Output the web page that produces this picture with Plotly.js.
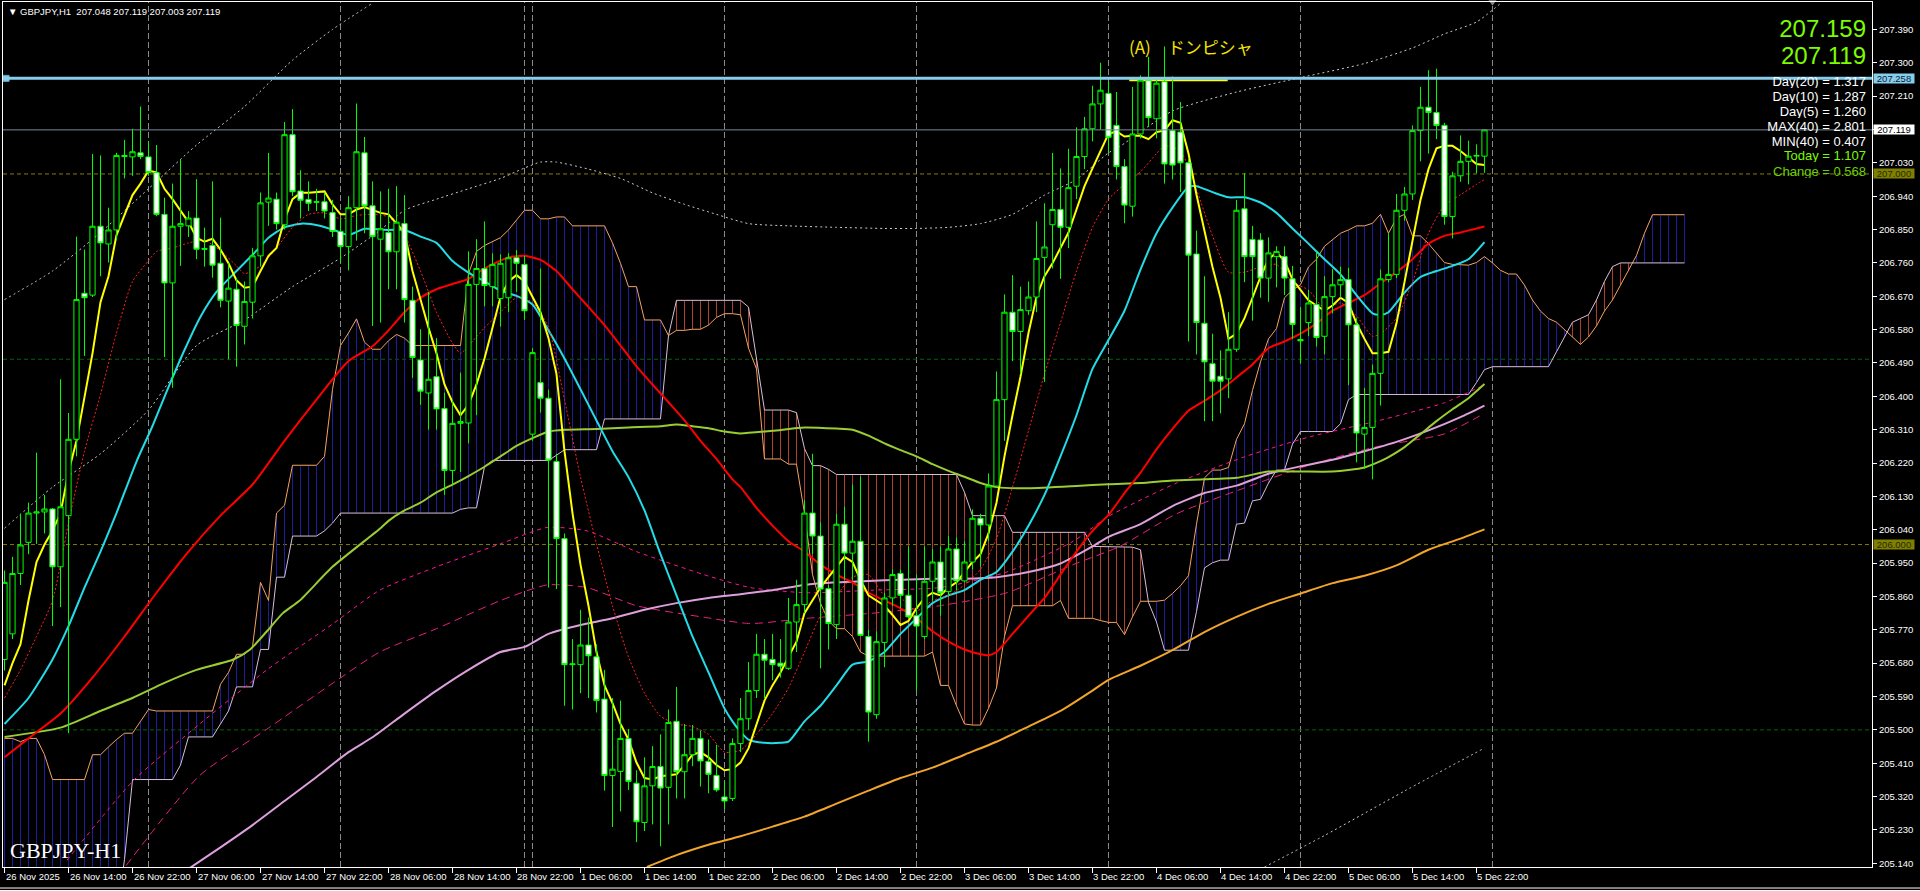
<!DOCTYPE html>
<html><head><meta charset="utf-8">
<script src="https://cdn.plot.ly/plotly-3.0.1.min.js"></script>
<style>html,body{margin:0;padding:0;background:#000;overflow:hidden}#chart{width:1920px;height:891px}</style>
</head><body><div id="chart"></div>
<script>
// ---------- candles (GBPJPY H1, bar 0 = 26 Nov 06:00) ----------
const openP = [205.690,205.759,205.922,206.006,206.085,206.088,206.096,205.940,206.078,206.284,
206.678,206.673,206.859,206.811,206.849,207.050,207.046,207.057,207.046,207.004,
206.891,206.706,206.859,206.860,206.881,206.799,206.807,206.759,206.657,206.689,
206.589,206.654,206.779,206.924,206.932,206.863,207.106,206.954,206.931,206.925,
206.925,206.896,206.845,206.804,206.909,207.057,206.914,206.824,206.842,206.790,
206.866,206.659,206.498,206.409,206.453,206.367,206.200,206.327,206.328,206.702,
206.745,206.696,206.664,206.666,206.774,206.756,206.298,206.437,206.395,206.224,
206.016,205.676,205.676,205.729,205.697,205.583,205.377,205.388,205.477,205.356,
205.250,205.349,205.401,205.345,205.523,205.387,205.433,205.477,205.415,205.377,
205.319,205.315,205.463,205.530,205.606,205.704,205.690,205.680,205.666,205.791,
205.838,206.085,206.023,205.881,205.784,206.055,205.977,206.009,205.752,205.541,
205.736,205.856,205.922,205.863,205.808,205.752,205.901,205.953,205.873,205.988,
205.902,205.953,206.071,206.053,206.158,206.391,206.627,206.575,206.631,206.668,
206.775,206.863,206.904,206.856,206.967,207.047,207.122,207.189,207.217,207.131,
207.020,206.913,207.108,207.253,207.149,207.249,207.117,207.113,207.030,206.784,
206.597,206.488,206.454,206.447,206.527,206.906,206.823,206.822,206.719,206.777,
206.777,206.717,206.553,206.599,206.648,206.562,206.669,206.701,206.715,206.593,
206.298,206.316,206.462,206.715,206.729,206.902,206.946,207.117,207.180,207.166,
207.131,206.885,206.995,207.034,207.048,207.048];
const highP = [205.930,205.967,206.083,206.113,206.248,206.134,206.099,206.446,206.355,206.831,
206.796,207.054,207.050,206.909,207.057,207.092,207.122,207.182,207.088,207.078,
206.936,206.974,207.040,206.900,206.986,206.855,206.980,206.882,206.760,206.720,
206.710,206.800,206.950,207.057,206.950,207.140,207.175,207.010,206.980,206.960,
206.950,206.930,206.880,206.940,207.190,207.100,206.980,206.953,206.960,206.967,
206.943,206.696,206.581,206.682,206.557,206.410,206.390,206.464,206.791,206.824,
206.872,206.786,206.783,206.786,206.795,206.779,206.530,206.745,206.418,206.245,
206.030,205.745,205.824,205.803,205.731,205.662,205.586,205.579,205.502,205.391,
205.426,205.456,205.488,205.555,205.616,205.516,205.513,205.498,205.474,205.460,
205.363,205.477,205.586,205.683,205.759,205.745,205.759,205.745,205.856,205.905,
206.120,206.245,206.060,205.891,206.083,206.102,206.162,206.183,205.770,205.766,
205.870,205.933,205.933,205.995,205.919,205.995,205.988,205.995,206.023,206.019,
206.009,206.095,206.083,206.192,206.467,206.675,206.727,206.696,206.710,206.872,
206.921,207.057,207.015,207.068,207.126,207.154,207.238,207.300,207.250,207.221,
207.040,207.235,207.266,207.316,207.256,207.344,207.263,207.194,207.041,206.847,
206.724,206.569,206.524,206.627,206.930,207.002,206.860,206.840,206.829,206.805,
206.805,206.752,206.641,206.687,206.791,206.724,206.743,206.750,206.747,206.611,
206.423,206.486,206.742,206.840,206.946,206.965,207.131,207.235,207.280,207.284,
207.138,207.006,207.104,207.090,207.080,207.119];
const lowP = [205.660,205.745,205.891,205.974,206.002,206.030,205.780,205.831,205.491,206.238,
206.509,206.668,206.724,206.761,206.821,206.988,206.995,207.040,206.995,206.886,
206.506,206.423,206.752,206.830,206.770,206.750,206.720,206.640,206.500,206.480,
206.540,206.610,206.750,206.860,206.850,206.850,206.940,206.880,206.900,206.900,
206.880,206.830,206.760,206.740,206.820,206.840,206.590,206.599,206.689,206.689,
206.599,206.450,206.377,206.310,206.310,206.134,206.162,206.196,206.273,206.349,
206.643,206.643,206.588,206.627,206.682,206.606,206.280,206.356,205.884,205.880,
205.565,205.555,205.599,205.586,205.547,205.336,205.238,205.280,205.338,205.197,
205.227,205.245,205.186,205.245,205.315,205.315,205.402,205.347,205.329,205.333,
205.287,205.308,205.440,205.500,205.586,205.586,205.634,205.641,205.662,205.710,
205.815,205.974,205.666,205.717,205.745,205.905,205.905,205.755,205.468,205.530,
205.669,205.835,205.828,205.801,205.606,205.745,205.849,205.808,205.863,205.877,
205.898,205.933,205.940,206.009,206.155,206.280,206.495,206.460,206.620,206.627,
206.439,206.745,206.717,206.800,206.932,207.013,207.088,207.120,207.057,206.985,
206.867,206.885,207.096,207.127,207.096,206.974,206.985,206.951,206.548,206.513,
206.333,206.333,206.354,206.395,206.520,206.708,206.604,206.666,206.655,206.694,
206.673,206.555,206.488,206.562,206.534,206.513,206.624,206.666,206.430,206.222,
206.204,206.176,206.375,206.708,206.719,206.874,206.930,207.034,207.055,207.094,
206.863,206.826,206.979,206.972,207.002,207.003];
const closeP = [205.898,205.922,205.999,206.085,206.088,206.096,205.940,206.102,206.284,206.661,
206.666,206.859,206.814,206.849,207.050,207.047,207.060,207.047,207.004,206.891,
206.706,206.859,206.866,206.881,206.797,206.797,206.754,206.659,206.692,206.591,
206.656,206.779,206.922,206.935,206.866,207.106,206.952,206.929,206.921,206.924,
206.900,206.845,206.804,206.909,207.060,206.914,206.831,206.852,206.790,206.870,
206.661,206.505,206.414,206.446,206.366,206.200,206.327,206.332,206.702,206.745,
206.699,206.756,206.759,206.774,206.759,206.631,206.518,206.395,206.228,206.016,
205.676,205.678,205.729,205.700,205.579,205.377,205.394,205.477,205.361,205.252,
205.349,205.401,205.343,205.520,205.387,205.433,205.477,205.416,205.380,205.338,
205.308,205.463,205.530,205.606,205.704,205.688,205.676,205.672,205.791,205.838,
206.085,206.023,205.880,205.787,206.055,205.977,206.009,205.755,205.548,205.738,
205.856,205.919,205.863,205.805,205.780,205.901,205.953,205.870,205.988,205.902,
205.953,206.071,206.053,206.158,206.391,206.627,206.575,206.634,206.668,206.772,
206.803,206.904,206.856,206.963,207.047,207.122,207.189,207.226,207.099,207.020,
206.916,207.108,207.253,207.152,207.245,207.027,207.024,207.030,206.781,206.599,
206.493,206.441,206.441,206.527,206.902,206.777,206.777,206.719,206.787,206.791,
206.719,206.594,206.550,206.652,206.559,206.669,206.701,206.715,206.593,206.301,
206.316,206.462,206.717,206.729,206.902,206.946,207.117,207.180,207.166,207.131,
206.885,206.995,207.034,207.048,207.050,207.119];

// ---------- indicators ----------
const yellowMA = [205.620,205.680,205.731,205.849,205.953,206.000,206.037,206.085,206.196,206.280,
206.398,206.516,206.654,206.724,206.835,206.891,206.943,206.974,207.009,207.004,
206.960,206.932,206.902,206.870,206.828,206.817,206.825,206.796,206.759,206.713,
206.693,206.696,206.738,206.779,206.800,206.877,206.932,206.949,206.949,206.950,
206.953,206.918,206.891,206.891,206.904,206.911,206.902,206.895,206.891,206.866,
206.842,206.738,206.661,206.585,206.516,206.432,206.384,206.349,206.377,206.432,
206.502,206.585,206.668,206.710,206.727,206.710,206.668,206.627,206.557,206.460,
206.252,206.085,205.946,205.835,205.710,205.620,205.572,205.516,205.474,205.412,
205.370,205.366,205.375,205.377,205.380,205.405,205.433,205.440,205.426,205.405,
205.391,205.394,205.412,205.450,205.516,205.579,205.620,205.655,205.697,205.738,
205.815,205.849,205.884,205.912,205.940,205.967,205.953,205.905,205.863,205.849,
205.835,205.810,205.783,205.794,205.828,205.856,205.870,205.863,205.884,205.898,
205.926,205.953,205.974,206.030,206.113,206.238,206.349,206.453,206.571,206.668,
206.724,206.759,206.800,206.842,206.904,206.967,207.015,207.064,207.108,207.115,
207.101,207.103,207.103,207.094,207.113,207.117,207.145,207.138,207.055,206.944,
206.847,206.749,206.666,206.555,206.569,206.611,206.666,206.722,206.770,206.788,
206.766,206.715,206.687,206.659,206.645,206.631,206.645,206.666,206.652,206.597,
206.555,206.516,206.516,206.520,206.597,206.708,206.819,206.930,207.013,207.069,
207.076,207.076,207.062,207.044,207.027,207.024];

const redDotBars = [0,2,4,6,8,10,12,14,16,18,19,21,23,25,27,29,30,32,34,36,38,40,42,44,46,48,50,52,54,56,57,58,60,62,64,66,68,70,72,74,76,78,80,82,84,86,88,90,92,94,96,98,100,102,104,106,108,110,112,114,116,118,120,122,124,126,128,130,132,134,136,138,140,142,144,145,147,149,151,153,155,157,159,161,163,165,167,169,171,172,174,176,178,180,182,184,185];
const redDotVals = [205.586,205.662,205.752,205.849,206.058,206.252,206.405,206.571,206.710,206.766,206.791,206.800,206.814,206.821,206.793,206.752,206.731,206.752,206.800,206.856,206.891,206.895,206.879,206.888,206.891,206.884,206.835,206.738,206.627,206.543,206.516,206.536,206.585,206.627,206.666,206.654,206.585,206.391,206.182,206.002,205.835,205.697,205.599,205.537,205.516,205.509,205.488,205.440,205.445,205.488,205.544,205.613,205.710,205.808,205.863,205.912,205.919,205.863,205.856,205.821,205.849,205.863,205.891,205.933,206.016,206.155,206.307,206.460,206.599,206.738,206.856,206.932,206.972,207.006,207.055,207.076,207.062,206.958,206.833,206.735,206.735,206.749,206.756,206.708,206.687,206.638,206.652,206.617,206.562,206.569,206.611,206.708,206.840,206.916,206.944,206.972,206.985];

const cyanBars = [0,3,6,8,10,12,14,16.5,18.5,20.5,22.5,24.5,26.5,29,31.5,33,35,37.3,39.4,41.5,43,45,48,50,52,54,56,58,60,62,64,66,68,70,72,74,76,78,80,82,84,86,88,90,91,92,93,95,97,98,100,102,104,106,108,110,112,114,116,118,120,122,124,126,128,130,132,134,136,138,140,142,144,146,148,149,151,153,155,157,159,161,163,165,167,169,171,172,173,175,177,179,181,183,185];
const cyanVals = [205.516,205.586,205.690,205.780,205.884,205.981,206.085,206.224,206.320,206.425,206.525,206.615,206.682,206.738,206.793,206.828,206.856,206.866,206.860,206.846,206.835,206.852,206.849,206.849,206.831,206.814,206.765,206.734,206.710,206.685,206.671,206.648,206.578,206.502,206.419,206.335,206.252,206.182,206.092,205.974,205.863,205.752,205.655,205.558,205.523,205.495,205.474,205.465,205.465,205.468,205.523,205.565,205.620,205.676,205.685,205.710,205.759,205.801,205.842,205.863,205.877,205.905,205.926,205.981,206.051,206.134,206.238,206.349,206.474,206.552,206.631,206.742,206.840,206.909,206.965,206.967,206.951,206.937,206.937,206.923,206.895,206.853,206.812,206.770,206.729,206.673,206.624,206.620,206.627,206.680,206.722,206.738,206.752,206.770,206.816];

const redBars = [0,3,7,11,15,19,23,27,31,35,39,43,46,48,50,52,54,56,58,60,62,63,65,67,69,71,73,75,77,79,81,83,85,87,89,91,92,94,96,98,100,102,104,106,108,110,112,114,116,118,120,122,123,124,126,128,130,132,134,136,138,140,142,144,146,148,150,152,154,156,158,160,162,164,166,168,170,172,174,176,178,180,182,184,185];
const redVals = [205.426,205.477,205.544,205.641,205.752,205.870,205.981,206.078,206.162,206.280,206.391,206.495,206.535,206.578,206.627,206.666,206.689,206.703,206.717,206.745,206.766,206.775,206.779,206.768,206.738,206.689,206.641,206.592,206.537,206.481,206.432,206.384,206.335,206.280,206.231,206.176,206.155,206.099,206.051,206.009,205.981,205.946,205.919,205.898,205.870,205.849,205.828,205.801,205.766,205.738,205.717,205.704,205.701,205.710,205.759,205.808,205.856,205.919,205.981,206.037,206.080,206.139,206.194,206.257,206.312,206.361,206.388,206.416,206.451,206.486,206.530,206.548,206.569,206.597,206.631,206.652,206.673,206.705,206.735,206.770,206.812,206.833,206.842,206.853,206.858];

const greenBars = [0,7,12,16,20,24,28.6,30.7,32.8,34.8,36.9,41,47,48,50,52,54,56,58,60,62,64,66,68,70,74,78,82,84,86,88,90,92,96,100,104,106,108,110,112,114,116,118,120,122,124,128,134,138,142,146,150,154,158,162,166,168,170,172,173,175,177,179,181,183,185];
const greenVals = [205.481,205.506,205.551,205.586,205.627,205.662,205.690,205.717,205.766,205.815,205.849,205.940,206.044,206.064,206.092,206.113,206.141,206.162,206.185,206.210,206.238,206.266,206.287,206.305,206.310,206.312,206.316,206.319,206.324,206.319,206.314,206.305,206.300,206.307,206.316,206.313,206.310,206.294,206.273,206.255,206.238,206.217,206.199,206.183,206.166,206.155,206.152,206.158,206.163,206.166,206.173,206.176,206.180,206.197,206.197,206.197,206.201,206.208,206.225,206.236,206.263,206.298,206.333,206.365,206.395,206.433];

const plumBars = [23,27,31,35,39,43,46,50,54,58,62,65,68,72,76,80,84,88,92,96,100,104,108,112,116,120,124,128,132,136,138,142,146,150,154,158,162,166,170,174,178,182,185];
const plumVals = [205.125,205.183,205.243,205.308,205.373,205.440,205.480,205.544,205.606,205.662,205.710,205.724,205.759,205.783,205.801,205.824,205.842,205.856,205.866,205.877,205.891,205.898,205.902,205.905,205.908,205.908,205.912,205.926,205.949,205.995,206.021,206.055,206.104,206.139,206.159,206.191,206.211,206.229,206.252,206.277,206.308,206.344,206.375];

const orangeBars = [80.3,84,88,92,96,100,104,108,112,116,120,124,128,132,136,138,142,146,150,154,158,162,166,170,174,178,182,185];
const orangeVals = [205.130,205.162,205.190,205.213,205.239,205.266,205.301,205.336,205.370,205.398,205.433,205.468,205.509,205.551,205.606,205.635,205.673,205.715,205.764,205.805,205.840,205.868,205.896,205.916,205.944,205.986,206.016,206.041];

const pinkUpBars = [7.8,16.1,24.4,32.8,41.1,46.9,54,62,67.8,72.8,79,87.4,93.2,100.3,108.6,116.9,125.3,133.6,138,146.5,154.9,163.2,171.5,179.9,184.9];
const pinkUpVals = [205.148,205.363,205.516,205.662,205.787,205.877,205.940,206.002,206.046,206.037,205.981,205.919,205.884,205.870,205.877,205.884,205.926,206.009,206.076,206.166,206.236,206.291,206.333,206.382,206.430];
const pinkLoBars = [15.2,24.4,32.8,41.1,46.9,54,62,67.8,72.8,79,87.4,93.2,100.3,108.6,116.9,125.3,133.6,139.4,146.5,154.9,163.2,171.5,179.9,184.4];
const pinkLoVals = [205.134,205.377,205.502,205.627,205.710,205.773,205.849,205.891,205.884,205.835,205.804,205.787,205.801,205.815,205.835,205.870,205.946,205.995,206.083,206.152,206.215,206.264,206.298,206.347];

const bandABars = [0,6,12,18,24,30,36,41,46];
const bandAVals = [206.661,206.738,206.842,206.960,207.078,207.182,207.307,207.390,207.461];
const bandBBars = [0,6,12,18,24,30,36,42,47,50,54,58,62,65,67,69,73,77,81,85,89,93,98,104,110,114,118,122,126,130,134,138,139.4,146,154,162,170,176,180,184,187];
const bandBVals = [206.044,206.155,206.245,206.363,206.537,206.606,206.696,206.773,206.849,206.902,206.932,206.960,206.988,207.016,207.032,207.032,207.013,206.988,206.949,206.918,206.891,206.866,206.860,206.856,206.853,206.853,206.856,206.866,206.891,206.943,206.985,207.057,207.074,207.170,207.221,207.260,207.298,207.340,207.378,207.410,207.460];
const bandCBars = [157.5,165,175,185];
const bandCVals = [205.130,205.215,205.335,205.451];

// Ichimoku Senkou spans, bars 0..210
const spanA = [205.477,205.477,205.468,205.477,205.477,205.433,205.366,205.366,205.366,205.366,
205.366,205.433,205.433,205.454,205.474,205.491,205.491,205.523,205.555,205.551,
205.551,205.551,205.551,205.551,205.551,205.551,205.551,205.623,205.655,205.704,
205.704,205.724,205.898,205.849,206.085,206.106,206.214,206.214,206.214,206.214,
206.238,206.419,206.537,206.571,206.609,206.546,206.527,206.527,206.550,206.567,
206.557,206.537,206.537,206.537,206.537,206.537,206.537,206.537,206.731,206.791,
206.807,206.818,206.828,206.849,206.874,206.902,206.902,206.879,206.879,206.884,
206.884,206.860,206.860,206.860,206.860,206.860,206.814,206.759,206.696,206.696,
206.606,206.606,206.606,206.564,206.578,206.578,206.581,206.581,206.592,206.613,
206.623,206.623,206.620,206.530,206.474,206.231,206.231,206.231,206.217,206.217,
206.085,205.919,205.842,205.794,205.773,205.773,205.752,205.710,205.699,205.699,
205.699,205.699,205.699,205.699,205.699,205.699,205.710,205.620,205.620,205.565,
205.516,205.513,205.513,205.558,205.613,205.752,205.835,205.835,205.835,205.835,
205.835,205.835,205.849,205.801,205.801,205.801,205.801,205.795,205.790,205.790,
205.757,205.805,205.847,205.847,205.847,205.850,205.868,205.889,205.916,206.055,
206.180,206.201,206.201,206.208,206.284,206.326,206.416,206.493,206.555,206.583,
206.666,206.687,206.701,206.749,206.770,206.805,206.822,206.840,206.849,206.860,
206.860,206.867,206.891,206.840,206.881,206.891,206.833,206.833,206.812,206.788,
206.761,206.756,206.756,206.754,206.761,206.777,206.760,206.740,206.730,206.730,
206.700,206.660,206.630,206.610,206.600,206.580,206.560,206.540,206.560,206.590,
206.630,206.660,206.700,206.740,206.780,206.840,206.890,206.890,206.890,206.890,
206.890];
const spanB = [205.000,205.000,205.000,205.000,205.000,205.000,205.000,205.000,205.000,205.000,
205.000,205.000,205.000,205.000,205.000,205.150,205.366,205.366,205.366,205.366,
205.366,205.366,205.405,205.481,205.481,205.481,205.481,205.516,205.551,205.616,
205.616,205.616,205.717,205.717,205.912,205.912,206.023,206.023,206.023,206.023,
206.037,206.058,206.085,206.085,206.085,206.085,206.085,206.085,206.085,206.085,
206.085,206.085,206.085,206.085,206.085,206.085,206.085,206.095,206.099,206.099,
206.210,206.227,206.227,206.227,206.227,206.227,206.227,206.227,206.227,206.241,
206.256,206.256,206.256,206.256,206.256,206.339,206.339,206.339,206.339,206.339,
206.339,206.339,206.339,206.564,206.659,206.659,206.659,206.659,206.659,206.659,
206.659,206.659,206.659,206.641,206.502,206.363,206.363,206.363,206.363,206.356,
206.259,206.213,206.213,206.203,206.189,206.189,206.189,206.189,206.189,206.189,
206.189,206.189,206.189,206.189,206.189,206.189,206.189,206.189,206.189,206.189,
206.141,206.078,206.078,206.078,206.078,206.078,206.033,206.033,206.033,206.033,
206.033,206.033,206.033,206.033,206.033,206.033,205.995,205.995,205.993,205.993,
205.993,205.993,205.986,205.844,205.791,205.715,205.715,205.715,205.715,205.819,
205.937,205.951,205.958,205.958,206.055,206.058,206.118,206.122,206.166,206.201,
206.201,206.271,206.305,206.305,206.305,206.305,206.305,206.326,206.391,206.405,
206.405,206.405,206.405,206.405,206.405,206.405,206.405,206.405,206.405,206.405,
206.405,206.405,206.405,206.405,206.437,206.472,206.480,206.480,206.480,206.480,
206.480,206.480,206.480,206.480,206.520,206.560,206.600,206.610,206.620,206.660,
206.710,206.750,206.760,206.760,206.760,206.760,206.760,206.760,206.760,206.760,
206.760];

// ---------- levels, axis labels, texts ----------
const roundLevels = [207.000, 206.500, 206.000, 205.500];
const markedLevel = 207.258;
const bidPrice = 207.119;
const markSegBars = [140.6, 152.9];
const markSegPrice = 207.253;
const shiftMarkBar = 186;
const separatorBars = [18, 42, 65, 66, 90, 114, 138, 162, 186];
const labelBars = [0,8,16,24,32,40,48,56,64,72,80,88,96,104,112,120,128,136,144,152,160,168,176,184];
const timeLabels = ['26 Nov 2025','26 Nov 14:00','26 Nov 22:00','27 Nov 06:00','27 Nov 14:00','27 Nov 22:00','28 Nov 06:00','28 Nov 14:00','28 Nov 22:00','1 Dec 06:00','1 Dec 14:00','1 Dec 22:00','2 Dec 06:00','2 Dec 14:00','2 Dec 22:00','3 Dec 06:00','3 Dec 14:00','3 Dec 22:00','4 Dec 06:00','4 Dec 14:00','4 Dec 22:00','5 Dec 06:00','5 Dec 14:00','5 Dec 22:00'];
const priceTicks = [205.140,205.230,205.320,205.410,205.500,205.590,205.680,205.770,205.860,205.950,206.040,206.130,206.220,206.310,206.400,206.490,206.580,206.670,206.760,206.850,206.940,207.030,207.120,207.210,207.300,207.390];
const bigPrices = ['207.159', '207.119'];
const statLabels = ['Day(20) = 1.317','Day(10) = 1.287','Day(5) = 1.260','MAX(40) = 2.801','MIN(40) = 0.407','Today = 1.107','Change = 0.568'];
const headerText = '\u25BC GBPJPY,H1  207.048 207.119 207.003 207.119';
const symbolText = 'GBPJPY-H1';
const noteText = '(A)\u3000ドンピシャ';

// ---------- build ----------
const bars = openP.map((_, i) => i);
const cloudBars = spanA.map((_, i) => i);
const hatchBlue = {x: [], y: []}, hatchRed = {x: [], y: []};
cloudBars.forEach(i => {
  const h = spanA[i] >= spanB[i] ? hatchBlue : hatchRed;
  h.x.push(i, i, null); h.y.push(spanA[i], spanB[i], null);
});
const X0 = -0.1875, X1 = 233.44, Y0 = 205.130, Y1 = 207.464;
const SANS = 'Liberation Sans, Arial, sans-serif';

function line(x, y, color, width, dash, shape) {
  return {type: 'scatter', mode: 'lines', x: x, y: y, hoverinfo: 'skip',
    line: {color: color, width: width, dash: dash || 'solid', shape: shape || 'linear', smoothing: 0.6}};
}
const traces = [
  line(hatchBlue.x, hatchBlue.y, '#1e1e9a', 1),
  line(hatchRed.x, hatchRed.y, '#b2412f', 1),
  line(cloudBars, spanA, '#f4a460', 1),
  line(cloudBars, spanB, '#d8bfd8', 1),
  line(bandABars, bandAVals, '#c8c8c8', 1, '2px,3px', 'spline'),
  line(bandBBars, bandBVals, '#c8c8c8', 1, '2px,3px', 'spline'),
  line(bandCBars, bandCVals, '#c8c8c8', 1, '2px,3px', 'spline'),
  line(pinkUpBars, pinkUpVals, '#ff1493', 1, '4px,4px', 'spline'),
  line(pinkLoBars, pinkLoVals, '#e8207f', 1, '8px,5px', 'spline'),
  line(orangeBars, orangeVals, '#f2a52a', 2, null, 'spline'),
  line(plumBars, plumVals, '#dda0dd', 2, null, 'spline'),
  line(greenBars, greenVals, '#9acd32', 2, null, 'spline'),
  line(redBars, redVals, '#ff0000', 2, null, 'spline'),
  line(cyanBars, cyanVals, '#22dde8', 2, null, 'spline'),
  line(redDotBars, redDotVals, '#ff2020', 1, '2px,2px', 'spline'),
  line(bars, yellowMA, '#ffff00', 2),
  line(markSegBars, [markSegPrice, markSegPrice], '#ffff00', 2),
  {type: 'scatter', mode: 'markers', x: [0.2], y: [markedLevel], hoverinfo: 'skip',
   marker: {symbol: 'square', size: 6, color: '#87ceeb', line: {color: '#5fa8c8', width: 1}}},
  {type: 'scatter', mode: 'markers', x: [shiftMarkBar], y: [Y1], hoverinfo: 'skip', cliponaxis: false,
   marker: {symbol: 'triangle-down', size: 7, color: '#8a8a8a'}},
  {type: 'candlestick', x: bars, open: openP, high: highP, low: lowP, close: closeP,
   xaxis: 'x2', yaxis: 'y', hoverinfo: 'skip', whiskerwidth: 0,
   increasing: {line: {color: '#00ff00', width: 1}, fillcolor: '#000000'},
   decreasing: {line: {color: '#00ff00', width: 1}, fillcolor: '#ffffff'}}
];

const shapes = [];
separatorBars.forEach(b => shapes.push({type: 'line', xref: 'x', yref: 'paper', x0: b, x1: b, y0: 0, y1: 1,
  layer: 'below', line: {color: '#8a8a8a', width: 1, dash: '6px,3px'}}));
roundLevels.forEach(p => shapes.push({type: 'line', xref: 'paper', yref: 'y', x0: 0, x1: 1, y0: p, y1: p,
  layer: 'below', line: {color: (Math.round(p * 1000) % 1000 === 0) ? '#808000' : '#006400', width: 1, dash: '4px,3px'}}));
shapes.push({type: 'line', xref: 'paper', yref: 'y', x0: 0, x1: 1, y0: markedLevel, y1: markedLevel,
  layer: 'above', line: {color: '#87ceeb', width: 3}});
shapes.push({type: 'line', xref: 'paper', yref: 'y', x0: 0, x1: 1, y0: bidPrice, y1: bidPrice,
  layer: 'above', line: {color: '#778899', width: 1}});
[-0.0243, -0.0272].forEach(yy => shapes.push({type: 'line', xref: 'paper', yref: 'paper',
  x0: -0.002, x1: 1.026, y0: yy, y1: yy, line: {color: '#ffffff', width: 1}}));

const ann = [];
labelBars.forEach((b, k) => ann.push({xref: 'x', yref: 'paper', x: b, y: 0, xanchor: 'left', yanchor: 'top',
  yshift: -3, showarrow: false, borderpad: 0, text: timeLabels[k], font: {family: SANS, size: 9.5, color: '#ffffff'}}));
function tag(price, bg, fg) {
  ann.push({xref: 'paper', yref: 'y', x: 1, y: price, xanchor: 'left', yanchor: 'middle', xshift: 1,
    showarrow: false, text: price.toFixed(3), bgcolor: bg, width: 40, height: 9, borderpad: 0,
    font: {family: SANS, size: 9.5, color: fg}});
}
tag(markedLevel, '#87ceeb', '#0a1a3a');
tag(bidPrice, '#ffffff', '#000000');
tag(roundLevels[0], '#808000', '#2a2a00');
tag(roundLevels[2], '#808000', '#2a2a00');
const bigY = [27.5, 55];
bigPrices.forEach((t, k) => ann.push({xref: 'paper', yref: 'paper', x: 1, y: 1, xanchor: 'right', yanchor: 'middle',
  xshift: -5, yshift: -(bigY[k] - 2), showarrow: false, borderpad: 0, text: t, height: 22, width: 100, align: 'right',
  font: {family: SANS, size: 24, color: '#7cfc00'}}));
const statY = [81, 96.5, 111, 126, 141, 155.7, 171];
statLabels.forEach((t, k) => ann.push({xref: 'paper', yref: 'paper', x: 1, y: 1, xanchor: 'right', yanchor: 'middle',
  xshift: -5, yshift: -(statY[k] - 2), showarrow: false, borderpad: 0, text: t, height: 13, width: 110, align: 'right',
  font: {family: SANS, size: 13, color: k < 5 ? '#ffffff' : (k === 5 ? '#7cfc00' : '#6ccf00')}}));
ann.push({xref: 'paper', yref: 'paper', x: 0, y: 1, xanchor: 'left', yanchor: 'middle', xshift: 4, yshift: -9,
  showarrow: false, borderpad: 0, text: headerText, font: {family: SANS, size: 9.5, color: '#ffffff'}});
ann.push({xref: 'paper', yref: 'paper', x: 0, y: 0, xanchor: 'left', yanchor: 'middle', xshift: 6, yshift: 17,
  showarrow: false, borderpad: 0, text: symbolText, font: {family: 'Liberation Serif, Times New Roman, serif', size: 22, color: '#ffffff'}});
ann.push({xref: 'paper', yref: 'paper', x: (1128 - 3) / 1869, y: 1, xanchor: 'left', yanchor: 'middle', yshift: -44.5,
  showarrow: false, borderpad: 0, text: noteText, font: {family: 'Noto Sans CJK JP, sans-serif', size: 17, color: '#f5e400'}});

const layout = {
  width: 1920, height: 891,
  margin: {l: 3, r: 48, t: 2, b: 24, pad: 0},
  paper_bgcolor: '#000000', plot_bgcolor: '#000000',
  showlegend: false, hovermode: false, dragmode: false,
  boxgap: 0.35, boxgroupgap: 0,
  font: {family: SANS, color: '#ffffff', size: 9.5},
  xaxis: {range: [X0, X1], showgrid: false, zeroline: false, showline: true, mirror: true,
    linecolor: '#ffffff', linewidth: 1, tickvals: labelBars, ticks: 'outside', ticklen: 5,
    tickcolor: '#ffffff', showticklabels: false, rangeslider: {visible: false}, fixedrange: true},
  xaxis2: {range: [X0, X1], overlaying: 'x', visible: false, rangeslider: {visible: false}, fixedrange: true},
  yaxis: {range: [Y0, Y1], side: 'right', showgrid: false, zeroline: false, showline: true, mirror: true,
    linecolor: '#ffffff', linewidth: 1, tickvals: priceTicks, ticktext: priceTicks.map(v => v.toFixed(3)),
    ticks: 'outside', ticklen: 4, tickcolor: '#ffffff', tickfont: {family: SANS, size: 9.5, color: '#ffffff'},
    fixedrange: true},
  shapes: shapes, annotations: ann
};
Plotly.newPlot('chart', traces, layout, {staticPlot: true, displayModeBar: false});
</script></body></html>
